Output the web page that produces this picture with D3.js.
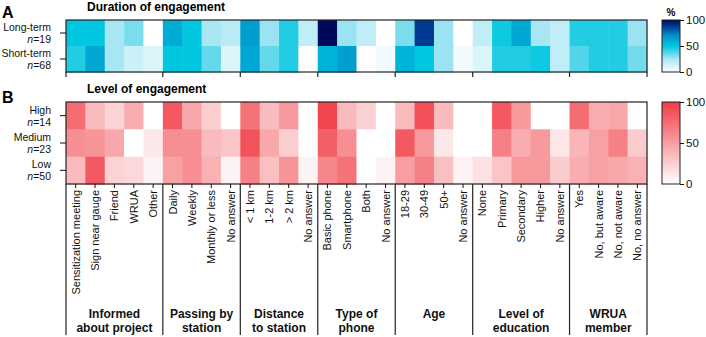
<!DOCTYPE html>
<html>
<head>
<meta charset="utf-8">
<script src="https://cdn.jsdelivr.net/npm/d3@7"></script>
<style>
  body { margin: 0; background: #fff; }
  svg { font-family: "Liberation Sans", Arial, sans-serif; }
</style>
</head>
<body>
<svg id="chart" width="706" height="337"></svg>
<script>
// grouped categories on the x axis
const groupTitles = [
  ['Informed', 'about project'],
  ['Passing by', 'station'],
  ['Distance', 'to station'],
  ['Type of', 'phone'],
  ['Age'],
  ['Level of', 'education'],
  ['WRUA', 'member']
];
const groupItems = [
  ['Sensitization meeting', 'Sign near gauge', 'Friend', 'WRUA', 'Other'],
  ['Daily', 'Weekly', 'Monthly or less', 'No answer'],
  ['< 1 km', '1-2 km', '> 2 km', 'No answer'],
  ['Basic phone', 'Smartphone', 'Both', 'No answer'],
  ['18-29', '30-49', '50+', 'No answer'],
  ['None', 'Primary', 'Secondary', 'Higher', 'No answer'],
  ['Yes', 'No, but aware', 'No, not aware', 'No, no answer']
];

// panel A: duration of engagement (%)
const durationRows = ['Long-term', 'Short-term'];
const durationN = [19, 68];
const durationValues = [
  [50, 50, 25, 32, 0, 60, 50, 25, 20, 65, 27, 45, 18, 100, 27, 18, 0, 32, 88, 27, 0, 18, 48, 62, 25, 18, 45, 45, 45, 27],
  [45, 62, 25, 15, 10, 50, 50, 35, 10, 62, 35, 45, 0, 57, 65, 0, 4, 57, 50, 27, 4, 10, 45, 45, 48, 18, 38, 45, 45, 33]
];

// panel B: level of engagement (%)
const levelRows = ['High', 'Medium', 'Low'];
const levelN = [14, 23, 50];
const levelValues = [
  [75, 35, 22, 42, 0, 85, 45, 25, 0, 72, 35, 52, 0, 95, 35, 24, 0, 35, 90, 35, 0, 0, 85, 52, 0, 0, 75, 42, 45, 0],
  [58, 55, 45, 0, 12, 58, 58, 35, 30, 88, 45, 25, 0, 82, 58, 0, 0, 85, 52, 12, 0, 0, 65, 42, 52, 13, 38, 48, 65, 26],
  [35, 85, 23, 20, 6, 48, 58, 40, 6, 65, 33, 55, 6, 62, 72, 0, 6, 50, 65, 33, 6, 16, 30, 52, 52, 26, 42, 48, 45, 40]
];

const legendTicks = [0, 50, 100];

const svg = d3.select('#chart');
const left = 66, right = 647;
const columns = groupItems.flat();

const x = d3.scaleBand(d3.range(columns.length), [left, right]);

const blue = d3.scaleLinear()
  .domain([0, 25, 50, 70, 85, 100])
  .range(['#ffffff', '#a8e6f4', '#00c6df', '#0092ca', '#0048a0', '#00085a'])
  .interpolate(d3.interpolateRgb)
  .clamp(true);
const red = d3.scaleLinear()
  .domain([0, 100])
  .range(['#ffffff', '#f03c44'])
  .clamp(true);

// boundaries between groups (column index)
const bounds = [0];
groupItems.forEach(g => bounds.push(bounds[bounds.length - 1] + g.length));
const boundX = i => i === columns.length ? right : x(i);

function rowLabels(g, y, rows, ns) {
  rows.forEach((r, i) => {
    const cy = y(i) + y.bandwidth() / 2;
    g.append('text')
      .attr('text-anchor', 'end')
      .attr('font-size', 10.5)
      .attr('fill', '#111')
      .attr('x', 51).attr('y', cy - 2)
      .text(r);
    const t2 = g.append('text')
      .attr('text-anchor', 'end')
      .attr('font-size', 10.5)
      .attr('fill', '#111')
      .attr('x', 51).attr('y', cy + 10);
    t2.append('tspan').attr('font-style', 'italic').text('n');
    t2.append('tspan').text('=' + ns[i]);
    g.append('line')
      .attr('x1', left - 6).attr('x2', left)
      .attr('y1', cy).attr('y2', cy)
      .attr('stroke', '#111');
  });
}

function heatmap(values, y, color) {
  const cells = values.flatMap((row, r) => row.map((v, c) => ({ r, c, v })));
  svg.append('g')
    .selectAll('rect')
    .data(cells)
    .join('rect')
      .attr('x', d => x(d.c))
      .attr('y', d => y(d.r))
      .attr('width', x.bandwidth() + 0.5)
      .attr('height', y.bandwidth() + 0.5)
      .attr('fill', d => color(d.v));
  const [y0, y1] = y.range();
  svg.append('rect')
    .attr('x', left).attr('y', y0)
    .attr('width', right - left).attr('height', y1 - y0)
    .attr('fill', 'none').attr('stroke', '#222').attr('stroke-width', 1.2);
}

function legend(y0, y1, color, title) {
  const lx = 662, lw = 18;
  const id = 'grad' + Math.round(y0);
  const grad = svg.append('defs').append('linearGradient')
    .attr('id', id).attr('x1', 0).attr('x2', 0).attr('y1', 1).attr('y2', 0);
  d3.range(0, 101, 5).forEach(v => {
    grad.append('stop').attr('offset', v / 100).attr('stop-color', color(v));
  });
  svg.append('rect')
    .attr('x', lx).attr('y', y0).attr('width', lw).attr('height', y1 - y0)
    .attr('fill', `url(#${id})`).attr('stroke', '#222').attr('stroke-width', 1);
  const s = d3.scaleLinear([0, 100], [y1, y0]);
  const g = svg.append('g').attr('transform', `translate(${lx + lw},0)`);
  g.call(d3.axisRight(s).tickValues(legendTicks).tickSize(4).tickFormat(d3.format('d')));
  g.select('.domain').remove();
  g.selectAll('text').attr('font-size', 11.5).attr('font-family', null).attr('fill', '#111').attr('x', 6);
  g.selectAll('line').attr('stroke', '#111');
  if (title) {
    svg.append('text')
      .attr('x', lx + lw / 2).attr('y', y0 - 4)
      .attr('text-anchor', 'middle')
      .attr('font-size', 10).attr('font-weight', 'bold')
      .text(title);
  }
}

// ---------- panel A ----------
svg.append('text').attr('x', 2).attr('y', 18)
  .attr('font-size', 16).attr('font-weight', 'bold').text('A');
svg.append('text').attr('x', 87).attr('y', 11)
  .attr('font-size', 12).attr('font-weight', 'bold').text('Duration of engagement');

const yA = d3.scaleBand(d3.range(durationRows.length), [20, 72]);
heatmap(durationValues, yA, blue);
rowLabels(svg.append('g'), yA, durationRows, durationN);
svg.append('g').selectAll('line')
  .data(bounds)
  .join('line')
    .attr('x1', d => boundX(d)).attr('x2', d => boundX(d))
    .attr('y1', 72).attr('y2', 77)
    .attr('stroke', '#222').attr('stroke-width', 1.2);
legend(20, 72, blue, '%');

// ---------- panel B ----------
svg.append('text').attr('x', 2).attr('y', 103)
  .attr('font-size', 16).attr('font-weight', 'bold').text('B');
svg.append('text').attr('x', 87).attr('y', 93)
  .attr('font-size', 12).attr('font-weight', 'bold').text('Level of engagement');

const yB = d3.scaleBand(d3.range(levelRows.length), [102, 184]);
heatmap(levelValues, yB, red);
rowLabels(svg.append('g'), yB, levelRows, levelN);
legend(102, 184, red, null);

// column ticks and labels
const colG = svg.append('g');
colG.selectAll('line')
  .data(columns)
  .join('line')
    .attr('x1', (d, i) => x(i) + x.bandwidth() / 2)
    .attr('x2', (d, i) => x(i) + x.bandwidth() / 2)
    .attr('y1', 184).attr('y2', 188)
    .attr('stroke', '#111');
colG.selectAll('text')
  .data(columns)
  .join('text')
    .attr('transform', (d, i) => `translate(${x(i) + x.bandwidth() / 2 + 4},190) rotate(-90)`)
    .attr('text-anchor', 'end')
    .attr('font-size', 11)
    .attr('fill', '#111')
    .text(d => d);

// group separators and titles
svg.append('g').selectAll('line')
  .data(bounds)
  .join('line')
    .attr('x1', d => boundX(d)).attr('x2', d => boundX(d))
    .attr('y1', 184).attr('y2', 335)
    .attr('stroke', '#222').attr('stroke-width', 1.2);
groupTitles.forEach((lines, gi) => {
  const cx = (boundX(bounds[gi]) + boundX(bounds[gi + 1])) / 2;
  lines.forEach((ln, li) => {
    svg.append('text')
      .attr('x', cx).attr('y', 318 + li * 14)
      .attr('text-anchor', 'middle')
      .attr('font-size', 12).attr('font-weight', 'bold')
      .attr('fill', '#111')
      .text(ln);
  });
});
</script>
</body>
</html>
